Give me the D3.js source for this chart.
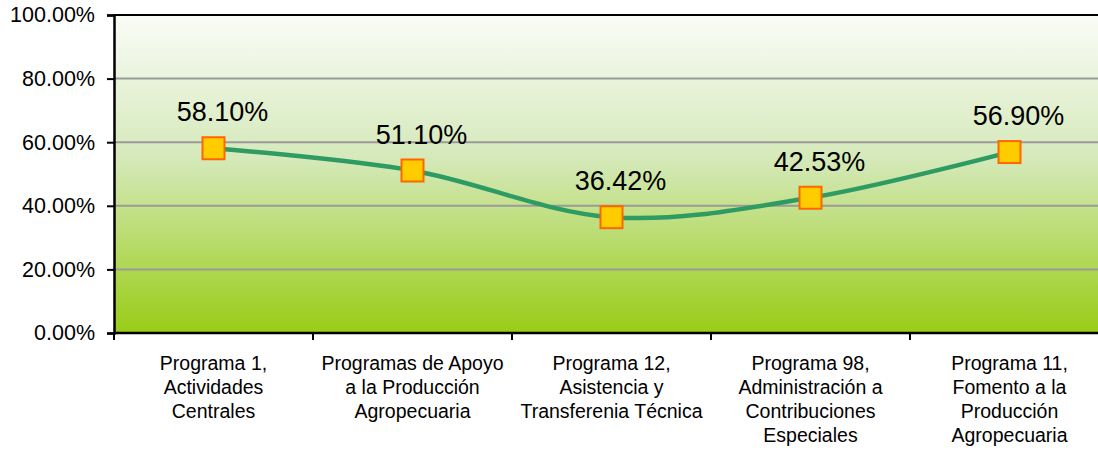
<!DOCTYPE html>
<html><head><meta charset="utf-8">
<script src="https://cdn.jsdelivr.net/npm/d3@7"></script>
<style>
html,body{margin:0;padding:0;background:#fff;}
svg{display:block;font-family:"Liberation Sans",Arial,sans-serif;}
</style></head>
<body>
<svg id="chart" width="1098" height="453"></svg>
<script>
const categories = [
  ["Programa 1,", "Actividades", "Centrales"],
  ["Programas de Apoyo", "a la Producción", "Agropecuaria"],
  ["Programa 12,", "Asistencia y", "Transferenia Técnica"],
  ["Programa 98,", "Administración a", "Contribuciones", "Especiales"],
  ["Programa 11,", "Fomento a la", "Producción", "Agropecuaria"]
];
const values = [0.5810, 0.5110, 0.3642, 0.4253, 0.5690];
const valueLabels = ["58.10%", "51.10%", "36.42%", "42.53%", "56.90%"];
const yTicks = [0, 0.2, 0.4, 0.6, 0.8, 1.0];

(function () {
const svg = d3.select("#chart");
const pL = 114, pR = 1109, pT = 15, pB = 333;
const keys = categories.map((c, i) => i);

const x = d3.scalePoint().domain(keys).range([pL, pR]).padding(0.5);
const xb = d3.scaleBand().domain(keys).range([pL, pR]);
const y = d3.scaleLinear().domain([0, 1]).range([pB, pT]);

const defs = svg.append("defs");
const grad = defs.append("linearGradient").attr("id", "bg").attr("x1", 0).attr("y1", 0).attr("x2", 0).attr("y2", 1);
grad.append("stop").attr("offset", "0%").attr("stop-color", "#FAFCF7");
grad.append("stop").attr("offset", "45%").attr("stop-color", "#D5E9BA");
grad.append("stop").attr("offset", "100%").attr("stop-color", "#99CC16");

svg.append("rect").attr("x", pL).attr("y", pT).attr("width", pR - pL).attr("height", pB - pT).attr("fill", "url(#bg)");

svg.append("g").selectAll("line").data(yTicks.filter(t => t > 0 && t < 1)).join("line")
  .attr("x1", pL).attr("x2", pR).attr("y1", d => y(d)).attr("y2", d => y(d))
  .attr("stroke", "#9A9A9A").attr("stroke-width", 2);

svg.append("line").attr("x1", pL).attr("x2", pR).attr("y1", pT).attr("y2", pT).attr("stroke", "#000").attr("stroke-width", 2);

const yAxis = d3.axisLeft(y).tickValues(yTicks).tickSize(7).tickPadding(12).tickFormat(d => d3.format(".2%")(d));
const gy = svg.append("g").attr("transform", `translate(${pL},0)`).call(yAxis);
gy.select(".domain").attr("stroke", "#000").attr("stroke-width", 2.5);
gy.selectAll(".tick line").attr("stroke", "#000").attr("stroke-width", 2);
gy.selectAll(".tick text").attr("font-size", 21.5).attr("fill", "#000").attr("font-family", "Liberation Sans, Arial, sans-serif");

const gx = svg.append("g").attr("transform", `translate(0,${pB})`);
gx.append("line").attr("x1", pL).attr("x2", pR).attr("stroke", "#000").attr("stroke-width", 2.5);
const bounds = keys.map(k => xb(k)).concat([pR]);
gx.selectAll("line.t").data(bounds).join("line").attr("class", "t")
  .attr("x1", d => d).attr("x2", d => d).attr("y1", 0).attr("y2", 7)
  .attr("stroke", "#000").attr("stroke-width", 2);
const xl = gx.selectAll("text").data(categories).join("text")
  .attr("text-anchor", "middle").attr("font-size", 19.5).attr("fill", "#000")
  .attr("transform", (d, i) => `translate(${x(i)},37)`);
xl.selectAll("tspan").data(d => d).join("tspan").attr("x", 0).attr("y", (d, j) => j * 24).text(d => d);

const pts = values.map((v, i) => [x(i), y(v)]);
svg.append("path").attr("d", d3.line().curve(d3.curveCatmullRom.alpha(0))(pts))
  .attr("fill", "none").attr("stroke", "#2E9B63").attr("stroke-width", 4.5);

const ms = 22;
svg.append("g").selectAll("rect").data(values).join("rect")
  .attr("x", (d, i) => x(i) - ms / 2).attr("y", d => y(d) - ms / 2)
  .attr("width", ms).attr("height", ms)
  .attr("fill", "#FFCC00").attr("stroke", "#FF6600").attr("stroke-width", 2);

svg.append("g").selectAll("text").data(values).join("text")
  .attr("x", (d, i) => x(i) + 9).attr("y", d => y(d) - 27)
  .attr("text-anchor", "middle").attr("font-size", 27).attr("fill", "#000")
  .text((d, i) => valueLabels[i]);
})();
</script>
</body></html>
